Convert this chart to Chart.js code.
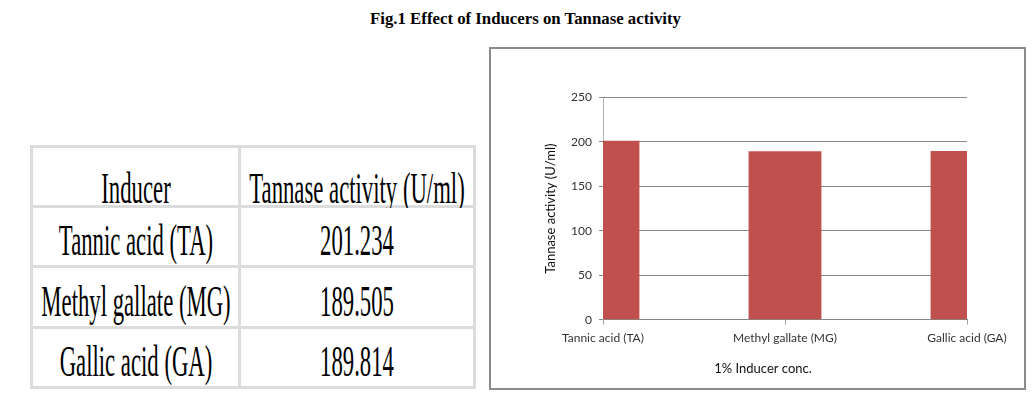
<!DOCTYPE html>
<html>
<head>
<meta charset="utf-8">
<script src="https://cdn.jsdelivr.net/npm/chart.js@4/dist/chart.umd.min.js"></script>
<style>
  html, body { margin: 0; padding: 0; background: #fff; }
  body { width: 1036px; height: 399px; position: relative; overflow: hidden; }
  #fig-title { position: absolute; left: 0; width: 1051px; top: 9px; text-align: center;
    font-family: "Liberation Serif", "Times New Roman", serif; font-weight: bold; font-size: 16.8px; color: #000; white-space: nowrap; }
  #tbl { position: absolute; left: 30px; top: 145px; border-collapse: separate; border-spacing: 3px;
    background: #dcdcdc; }
  #tbl td { background: #fff; padding: 0; position: relative; }
  #tbl td.c1 { width: 205px; }
  #tbl td.c2 { width: 232px; }
  #tbl span { position: absolute; left: 50%; white-space: nowrap; line-height: 45px;
    font-family: "Liberation Serif", "Times New Roman", serif; font-size: 45px; color: #000;
    transform: translateX(-50%) scaleX(0.505); transform-origin: 50% 50%; }
  #box { position: absolute; left: 489px; top: 47px; width: 537px; height: 343px; box-sizing: border-box;
    border: 2px solid #8c8c8c; background: #fff; }
  #chart { position: absolute; left: 0; top: 0; }
</style>
</head>
<body>
<div id="fig-title">Fig.1 Effect of Inducers on Tannase activity</div>
<table id="tbl"><tbody id="tbody"></tbody></table>
<div id="box"><canvas id="chart" width="533" height="339"></canvas></div>
<script>
const categories = ['Tannic acid (TA)', 'Methyl gallate (MG)', 'Gallic acid (GA)'];
const activity = [201.234, 189.505, 189.814];
const activityText = ['201.234', '189.505', '189.814'];
const tableHeader = ['Inducer', 'Tannase activity (U/ml)'];
const yTicks = [0, 50, 100, 150, 200, 250];
const xTitle = '1% Inducer conc.';
const yTitle = 'Tannase activity (U/ml)';

// table built from the same arrays
(function () {
  const rowHeights = [57, 57, 58, 57];
  const textTops = [18, 10, 11, 10];
  const rows = [tableHeader].concat(categories.map((c, i) => [c, activityText[i]]));
  const tbody = document.getElementById('tbody');
  rows.forEach((r, i) => {
    const tr = document.createElement('tr');
    r.forEach((txt, j) => {
      const td = document.createElement('td');
      td.className = j === 0 ? 'c1' : 'c2';
      td.style.height = rowHeights[i] + 'px';
      const sp = document.createElement('span');
      sp.textContent = txt;
      sp.style.top = textTops[i] + 'px';
      td.appendChild(sp);
      tr.appendChild(td);
    });
    tbody.appendChild(tr);
  });
})();

const FONT = 'Lato, "Open Sans", "DejaVu Sans", sans-serif';

new Chart(document.getElementById('chart'), {
  type: 'bar',
  data: {
    labels: categories,
    datasets: [{
      data: activity,
      backgroundColor: '#C0504D',
      borderWidth: 0,
      categoryPercentage: 0.4,
      barPercentage: 1,
      clip: 0
    }]
  },
  options: {
    responsive: false,
    animation: false,
    devicePixelRatio: 1,
    layout: { padding: { left: 49, right: 38, top: 48.5, bottom: 1.6 } },
    plugins: {
      legend: { display: false },
      tooltip: { enabled: false },
      title: {
        display: true, position: 'bottom', text: xTitle,
        font: { family: FONT, size: 13, weight: 'normal' }, color: '#111',
        padding: { top: 9, bottom: 10 }
      }
    },
    scales: {
      x: {
        offset: false,
        grid: { offset: false, drawOnChartArea: false, drawTicks: true, tickLength: 5, color: '#a6a6a6' },
        border: { color: '#868686' },
        ticks: { padding: 6, maxRotation: 0, autoSkip: false, font: { family: FONT, size: 12 }, color: '#333' },
        afterFit: s => { s.height = 32; }
      },
      y: {
        min: 0, max: 250,
        afterBuildTicks: s => { s.ticks = yTicks.map(v => ({ value: v })); },
        ticks: { padding: 7, font: { family: FONT, size: 12 }, color: '#333' },
        grid: { color: '#868686', tickLength: 4 },
        border: { color: '#b0b0b0' },
        title: { display: true, text: yTitle, font: { family: FONT, size: 13 }, color: '#111', padding: { top: 3, bottom: 4 } },
        afterFit: s => { s.width = 63; }
      },
      y2: {
        position: 'right', display: true,
        grid: { display: false }, border: { display: false }, ticks: { display: false },
        afterFit: s => { s.width = 19; }
      }
    }
  }
});
</script>
</body>
</html>
